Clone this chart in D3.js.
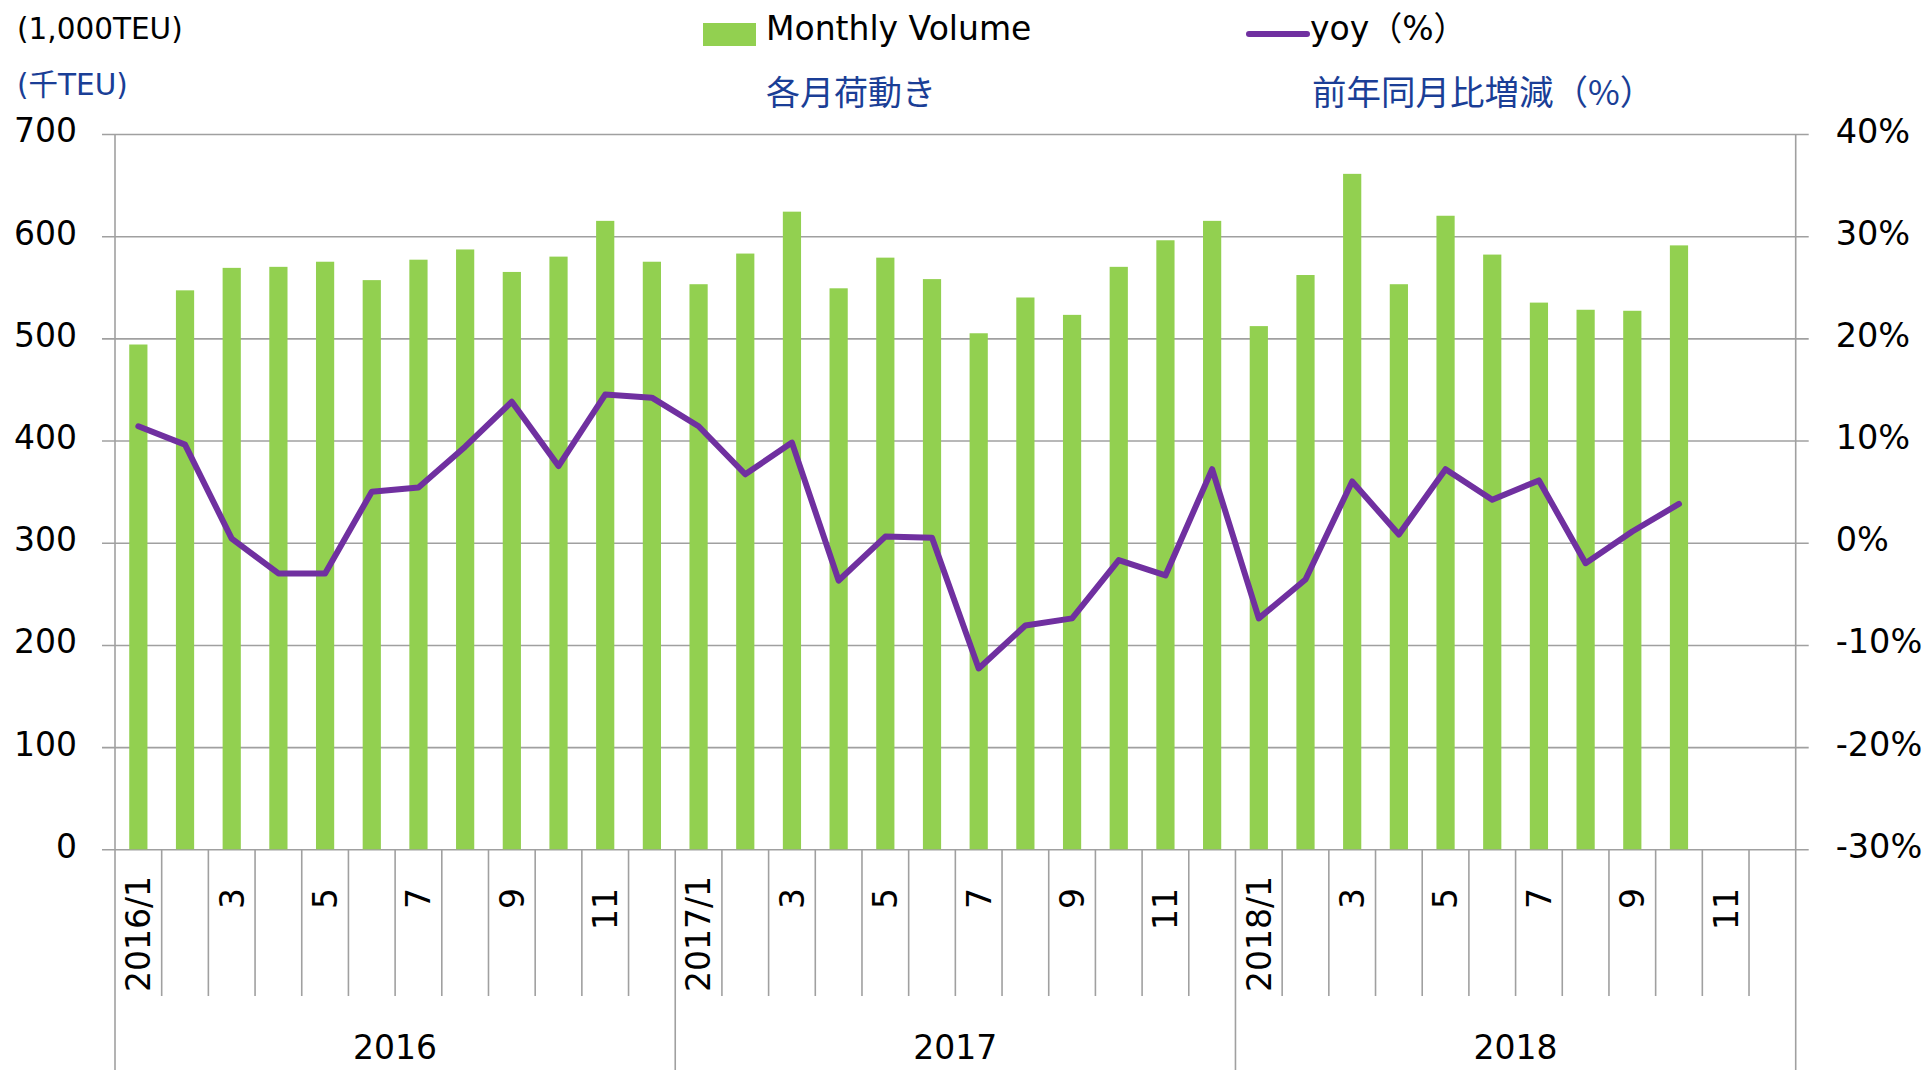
<!DOCTYPE html>
<html>
<head>
<meta charset="utf-8">
<script src="https://cdn.jsdelivr.net/npm/d3@7"></script>
<style>
  body { margin: 0; background: #fff; }
  svg { display: block; }
  text { font-family: "DejaVu Sans", "Noto Sans CJK JP", sans-serif; }
  .jp { font-family: "Noto Sans CJK JP", "DejaVu Sans", sans-serif; }
</style>
</head>
<body>
<svg width="1931" height="1070"></svg>
<script>
// data
const years = ["2016", "2017", "2018"];
const months = d3.range(1, 13);
const volume = [494, 547, 569, 570, 575, 557, 577, 587, 565, 580, 615, 575,
                553, 583, 624, 549, 579, 558, 505, 540, 523, 570, 596, 615,
                512, 562, 661, 553, 620, 582, 535, 528, 527, 591];
const yoy = [11.4, 9.6, 0.4, -3.0, -3.0, 5.0, 5.4, 9.4, 13.8, 7.5, 14.5, 14.2,
             11.4, 6.7, 9.8, -3.7, 0.6, 0.5, -12.3, -8.1, -7.4, -1.7, -3.2, 7.2,
             -7.4, -3.6, 6.0, 0.8, 7.2, 4.2, 6.1, -2.0, 1.1, 3.8];
const leftTicks = [0, 100, 200, 300, 400, 500, 600, 700];
const rightTicks = [-30, -20, -10, 0, 10, 20, 30, 40];

const svg = d3.select("svg"),
    plotLeft = 115, plotRight = 1795.7, plotTop = 134, plotBottom = 849.3;

const GREEN = "#92D050", PURPLE = "#7030A0", BLUE = "#1A3E96", GRID = "#a0a0a0";

const cats = [];
years.forEach(function(yr) { months.forEach(function(m) { cats.push(yr + "/" + m); }); });

const x = d3.scaleBand().domain(cats).range([plotLeft, plotRight]).padding(0);
const y = d3.scaleLinear().domain([0, 700]).range([plotBottom, plotTop]);
const y2 = d3.scaleLinear().domain([-30, 40]).range([plotBottom, plotTop]);

plotGrid();
plotBars();
plotLine();
plotXAxis();
plotLegend();

function plotGrid() {
    // gridlines with small outer ticks on both sides
    svg.append("g")
        .attr("transform", "translate(" + plotLeft + ",0)")
        .call(d3.axisLeft(y).tickValues(leftTicks).tickSize(13).tickSizeOuter(0).tickPadding(25))
        .call(function(g) { g.select(".domain").remove(); })
        .call(function(g) {
            g.selectAll("line").attr("x1", 13 + plotRight - plotLeft).attr("x2", -13)
                .attr("stroke", GRID).attr("stroke-width", 1.6);
            g.selectAll("text").attr("font-size", 33).attr("fill", "#000")
                .attr("font-family", "DejaVu Sans").attr("dy", "0.24em");
        });

    svg.append("g")
        .attr("transform", "translate(" + plotRight + ",0)")
        .call(d3.axisRight(y2).tickValues(rightTicks).tickSize(0).tickPadding(40)
            .tickFormat(function(d) { return d + "%"; }))
        .call(function(g) { g.select(".domain").remove(); })
        .call(function(g) {
            g.selectAll("text").attr("font-size", 33.5).attr("fill", "#000")
                .attr("font-family", "DejaVu Sans").attr("dy", "0.24em");
        });

    // vertical axis lines
    [plotLeft, plotRight].forEach(function(xx) {
        svg.append("line")
            .attr("x1", xx).attr("x2", xx).attr("y1", plotTop).attr("y2", plotBottom)
            .attr("stroke", GRID).attr("stroke-width", 1.6);
    });
}

function plotBars() {
    const bw = x.bandwidth() * 0.39;
    svg.append("g")
        .selectAll("rect")
        .data(volume)
        .enter().append("rect")
        .attr("x", function(d, i) { return x(cats[i]) + (x.bandwidth() - bw) / 2; })
        .attr("y", function(d) { return y(d); })
        .attr("width", bw)
        .attr("height", function(d) { return plotBottom - y(d); })
        .attr("fill", GREEN);
}

function plotLine() {
    const line = d3.line()
        .x(function(d, i) { return x(cats[i]) + x.bandwidth() / 2; })
        .y(function(d) { return y2(d); });

    svg.append("path")
        .datum(yoy)
        .attr("fill", "none")
        .attr("stroke", PURPLE)
        .attr("stroke-width", 6)
        .attr("stroke-linejoin", "round")
        .attr("stroke-linecap", "round")
        .attr("d", line);
}

function plotXAxis() {
    const g = svg.append("g");
    const bounds = d3.range(0, cats.length + 1);

    g.selectAll("line")
        .data(bounds)
        .enter().append("line")
        .attr("x1", function(i) { return plotLeft + i * x.step(); })
        .attr("x2", function(i) { return plotLeft + i * x.step(); })
        .attr("y1", plotBottom)
        .attr("y2", function(i) { return i % 12 === 0 ? 1070 : 996; })
        .attr("stroke", GRID)
        .attr("stroke-width", 1.6);

    // month labels, rotated, odd months only (long ones pushed down to fit)
    g.selectAll("text.month")
        .data(cats.filter(function(c) { return +c.split("/")[1] % 2 === 1; }))
        .enter().append("text")
        .attr("class", "month")
        .attr("font-size", 33)
        .attr("fill", "#000")
        .attr("dy", "0.36em")
        .attr("text-anchor", "end")
        .text(function(c) { return c.split("/")[1] === "1" ? c : c.split("/")[1]; })
        .each(function(c) {
            const len = this.getComputedTextLength();
            const cx = x(c) + x.bandwidth() / 2;
            const end = Math.min(888, 992 - len);
            d3.select(this).attr("transform", "translate(" + cx + "," + end + ") rotate(-90)");
        });

    g.selectAll("text.year")
        .data(years)
        .enter().append("text")
        .attr("class", "year")
        .attr("font-size", 33)
        .attr("fill", "#000")
        .attr("text-anchor", "middle")
        .attr("x", function(yr) { return x(yr + "/1") + x.step() * 6; })
        .attr("y", 1059)
        .text(function(yr) { return yr; });
}

function plotLegend() {
    svg.append("text")
        .attr("x", 17).attr("y", 39)
        .attr("font-size", 29.5)
        .attr("fill", "#000")
        .text("(1,000TEU)");

    svg.append("text")
        .attr("x", 17).attr("y", 95)
        .attr("font-size", 29.5)
        .attr("fill", BLUE)
        .text("(千TEU)");

    svg.append("rect")
        .attr("x", 703).attr("y", 23)
        .attr("width", 53).attr("height", 23)
        .attr("fill", GREEN);

    svg.append("text")
        .attr("x", 766).attr("y", 40)
        .attr("font-size", 33)
        .attr("fill", "#000")
        .text("Monthly Volume");

    svg.append("line")
        .attr("x1", 1249).attr("x2", 1307)
        .attr("y1", 34).attr("y2", 34)
        .attr("stroke", PURPLE)
        .attr("stroke-width", 6)
        .attr("stroke-linecap", "round");

    svg.append("text")
        .attr("x", 1310).attr("y", 40)
        .attr("font-size", 33)
        .attr("fill", "#000")
        .text("yoy（%）");

    svg.append("text")
        .attr("class", "jp")
        .attr("x", 766).attr("y", 105)
        .attr("font-size", 34)
        .attr("fill", BLUE)
        .text("各月荷動き");

    svg.append("text")
        .attr("class", "jp")
        .attr("x", 1312).attr("y", 105)
        .attr("font-size", 34.5)
        .attr("fill", BLUE)
        .text("前年同月比増減（%）");
}
</script>
</body>
</html>
